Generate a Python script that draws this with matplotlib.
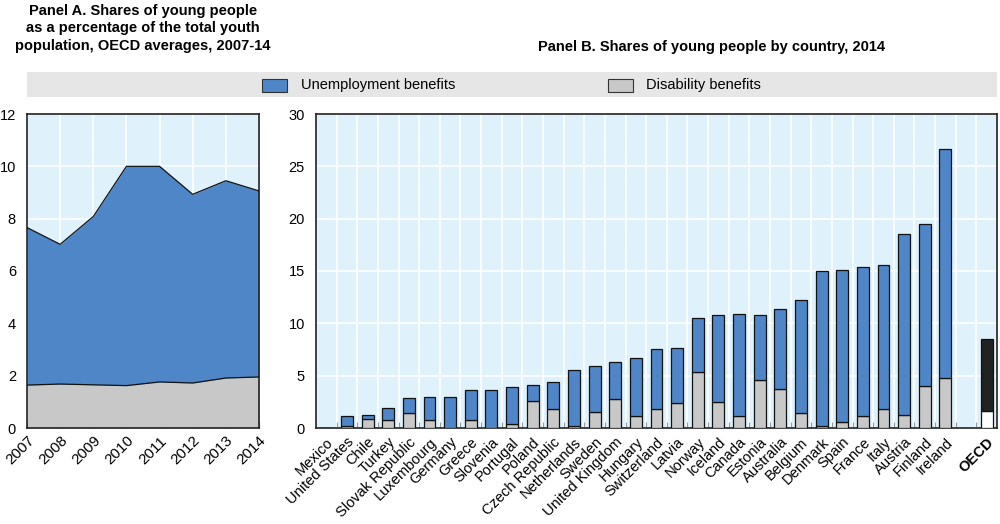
import numpy as np
import matplotlib
matplotlib.use('Agg')
import matplotlib.pyplot as plt
from matplotlib import font_manager
from matplotlib.patches import Rectangle

# narrow font if available, otherwise Arial-metric Liberation Sans
have = {f.name for f in font_manager.fontManager.ttflist}
main_font = 'Liberation Sans Narrow' if 'Liberation Sans Narrow' in have else 'Liberation Sans'
plt.rcParams['font.family'] = [main_font, 'DejaVu Sans']
fs = 11 if main_font == 'Liberation Sans Narrow' else 10.5

# Panel A: OECD averages 2007-14
years = [2007, 2008, 2009, 2010, 2011, 2012, 2013, 2014]
totalA = [7.66, 7.02, 8.08, 10.0, 10.0, 8.93, 9.45, 9.06]
disabA = [1.64, 1.68, 1.65, 1.62, 1.76, 1.72, 1.91, 1.95]

# Panel B: by country, 2014 (total = unemployment + disability)
countries = ['Mexico', 'United States', 'Chile', 'Turkey', 'Slovak Republic', 'Luxembourg',
             'Germany', 'Greece', 'Slovenia', 'Portugal', 'Poland', 'Czech Republic',
             'Netherlands', 'Sweden', 'United Kingdom', 'Hungary', 'Switzerland', 'Latvia',
             'Norway', 'Iceland', 'Canada', 'Estonia', 'Australia', 'Belgium', 'Denmark',
             'Spain', 'France', 'Italy', 'Austria', 'Finland', 'Ireland']
totalB = [0.0, 1.18, 1.27, 1.88, 2.86, 2.93, 2.99, 3.63, 3.63, 3.91, 4.10, 4.39,
          5.54, 5.92, 6.30, 6.65, 7.57, 7.67, 10.50, 10.82, 10.88, 10.82, 11.36, 12.19,
          15.02, 15.08, 15.37, 15.56, 18.58, 19.47, 26.69]
disabB = [0.0, 0.22, 0.86, 0.80, 1.40, 0.80, 0.0, 0.76, 0.03, 0.35, 2.55, 1.81,
          0.19, 1.53, 2.80, 1.11, 1.81, 2.39, 5.31, 2.45, 1.18, 4.61, 3.72, 1.43,
          0.16, 0.57, 1.11, 1.81, 1.27, 4.04, 4.74]
oecd_total = 8.53
oecd_disab = 1.62

blue = '#4e86c8'
grey = '#c8c8c8'
bg = '#dff1fb'

fig = plt.figure(figsize=(10, 5.24), dpi=100)

# legend band
fig.patches.append(Rectangle((0.027, 1 - 97/524), 0.97, 25/524, transform=fig.transFigure,
                             facecolor='#e6e6e6', edgecolor='none', zorder=0))
fig.patches.append(Rectangle((0.262, 1 - 92/524), 0.025, 13/524, transform=fig.transFigure,
                             facecolor=blue, edgecolor='#333333', lw=0.8))
fig.patches.append(Rectangle((0.608, 1 - 92/524), 0.025, 13/524, transform=fig.transFigure,
                             facecolor=grey, edgecolor='#333333', lw=0.8))
fig.text(0.301, 1 - 85.5/524, 'Unemployment benefits', fontsize=fs, va='center')
fig.text(0.646, 1 - 85.5/524, 'Disability benefits', fontsize=fs, va='center')

fig.text(0.143, 1 - 4/524, 'Panel A. Shares of young people\nas a percentage of the total youth\npopulation, OECD averages, 2007-14',
         ha='center', va='top', fontsize=fs, fontweight='bold', linespacing=1.3)
fig.text(0.712, 1 - 47/524, 'Panel B. Shares of young people by country, 2014',
         ha='center', va='center', fontsize=fs, fontweight='bold')

# ---- Panel A
ax1 = fig.add_axes([0.027, 96/524, 0.232, 314/524])
ax1.set_facecolor(bg)
ax1.fill_between(years, 0, disabA, color=grey, lw=0, zorder=2)
ax1.fill_between(years, disabA, totalA, color=blue, lw=0, zorder=2)
ax1.plot(years, disabA, color='#111111', lw=0.9, zorder=3)
ax1.plot(years, totalA, color='#111111', lw=0.9, zorder=3)
ax1.set_xlim(2007, 2014)
ax1.set_ylim(0, 12)
ax1.set_yticks(range(0, 13, 2))
ax1.set_xticks(years)
ax1.set_xticklabels([str(y) for y in years], rotation=45, ha='right', rotation_mode='anchor')
ax1.grid(True, color='white', lw=1.2, zorder=1)
ax1.set_axisbelow(True)
ax1.tick_params(axis='x', direction='in', length=4, width=0.8, color='#333333', labelsize=fs + 0.5, pad=4)
ax1.tick_params(axis='y', length=0, labelsize=fs, pad=8)
for s in ax1.spines.values():
    s.set_color('#222222')
    s.set_linewidth(1.2)

# ---- Panel B
ax2 = fig.add_axes([0.316, 96/524, 0.681, 314/524])
ax2.set_facecolor(bg)
x = np.arange(len(countries))
unemp = np.array(totalB) - np.array(disabB)
ax2.bar(x, disabB, width=0.58, color=grey, edgecolor='#111111', lw=0.9, zorder=3)
ax2.bar(x, unemp, bottom=disabB, width=0.58, color=blue, edgecolor='#111111', lw=0.9, zorder=3)
xo = len(countries) + 1
ax2.bar([xo], [oecd_disab], width=0.58, color='white', edgecolor='#111111', lw=0.9, zorder=3)
ax2.bar([xo], [oecd_total - oecd_disab], bottom=[oecd_disab], width=0.58, color='#222222',
        edgecolor='#111111', lw=0.9, zorder=3)
ax2.set_xlim(-0.5, xo + 0.5)
ax2.set_ylim(0, 30)
ax2.set_yticks(range(0, 31, 5))
ax2.set_xticks(list(x) + [xo])
labels = ax2.set_xticklabels(countries + ['OECD'], rotation=45, ha='right', rotation_mode='anchor')
labels[-1].set_fontweight('bold')
ax2.set_xticks(np.arange(0.5, xo, 1.0), minor=True)
ax2.grid(True, which='minor', axis='x', color='white', lw=1.2, zorder=1)
ax2.grid(True, which='major', axis='y', color='white', lw=1.2, zorder=1)
ax2.set_axisbelow(True)
ax2.tick_params(axis='x', which='major', length=0, labelsize=fs, pad=5)
ax2.tick_params(axis='x', which='minor', direction='in', length=4, width=0.8, color='#999999')
ax2.tick_params(axis='y', length=0, labelsize=fs, pad=8)
for s in ax2.spines.values():
    s.set_color('#222222')
    s.set_linewidth(1.2)

fig.savefig('out.png', dpi=100)
